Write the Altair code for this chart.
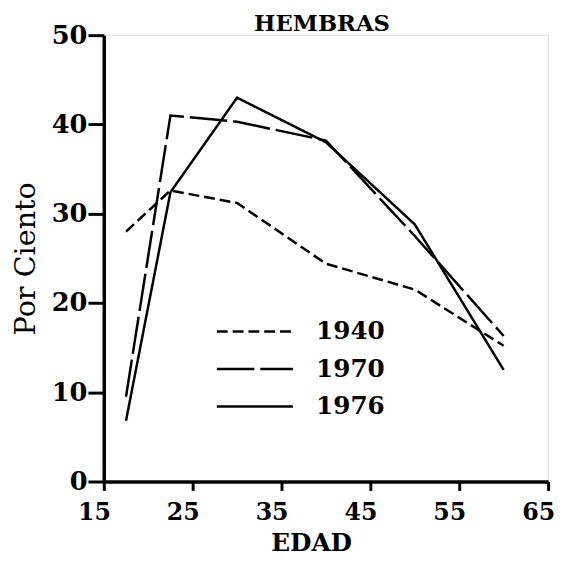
import altair as alt
import pandas as pd

edad = [17.5, 22.5, 30, 40, 50, 60]
p1940 = [28.0, 32.6, 31.2, 24.4, 21.5, 15.2]
p1970 = [9.5, 41.0, 40.3, 38.2, 27.5, 16.3]
p1976 = [6.8, 32.4, 43.0, 38.0, 28.8, 12.5]
years = ["1940", "1970", "1976"]
x_ticks = [15, 25, 35, 45, 55, 65]
y_ticks = [0, 10, 20, 30, 40, 50]

rows = []
for yr, vals in zip(years, [p1940, p1970, p1976]):
    for e, v in zip(edad, vals):
        rows.append({"edad": e, "pct": v, "year": yr})
df = pd.DataFrame(rows)

FONT = "DejaVu Serif"

chart = alt.Chart(df).mark_line(color="black", strokeWidth=2.5).encode(
    x=alt.X("edad:Q", scale=alt.Scale(domain=[15, 65], nice=False),
            axis=alt.Axis(values=x_ticks, title="EDAD", format="d",
                          labelFontSize=24, titleFontSize=25, titlePadding=6,
                          labelFlush=False, labelPadding=11, labelOffset=-10,
                          titleX=210, tickSize=9)),
    y=alt.Y("pct:Q", scale=alt.Scale(domain=[0, 50], nice=False),
            axis=alt.Axis(values=y_ticks, title="Por Ciento", format="d",
                          labelFontSize=26, titleFontSize=29, titleFontWeight="normal",
                          titlePadding=11, tickSize=16, labelPadding=1)),
    strokeDash=alt.StrokeDash("year:N",
        scale=alt.Scale(domain=years, range=[[11, 5], [38, 6], [1, 0]]),
        legend=alt.Legend(title=None, orient="none", legendX=113, legendY=286,
                          symbolType="stroke", symbolSize=5929,
                          symbolStrokeWidth=2.5, symbolStrokeColor="black",
                          labelFontSize=25, labelFont=FONT, labelFontWeight="bold",
                          labelOffset=22, clipHeight=28, rowPadding=10)),
    detail="year:N",
).properties(
    width=450, height=452,
    title=alt.TitleParams("HEMBRAS", fontSize=23, font=FONT, fontWeight="bold",
                          anchor="middle", offset=0, dx=-4, dy=14, baseline="top"),
    autosize=alt.AutoSizeParams(type="none"),
    padding={"left": 97, "top": 24, "right": 8, "bottom": 77},
).configure_view(stroke=None).configure(background="white").configure_axis(
    grid=False, domainColor="black", domainWidth=3.5, tickColor="black",
    tickWidth=3, labelFont=FONT, titleFont=FONT, labelColor="black",
    titleColor="black", labelFontWeight="bold", titleFontWeight="bold",
)

chart.save("out.html", embed_options={"renderer": "svg", "actions": False})
